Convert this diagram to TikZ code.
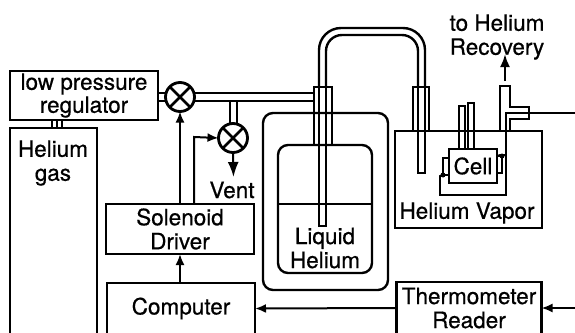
\documentclass[tikz,border=0pt]{standalone}
\usepackage{fontspec}
\setmainfont{TeX Gyre Heros}[FakeBold=0.6]
\usetikzlibrary{arrows.meta,calc}
\tikzset{
  x=1pt,y=-1pt,
  every node/.style={inner sep=0pt,outer sep=0pt},
  lab/.style={font=\fontsize{22.5}{24}\selectfont,align=center},
  boxn/.style={draw=black,line width=2.6pt,rectangle,fill=white,lab},
  valve/.style={draw=black,line width=2.8pt,circle,minimum size=29pt,fill=white,
    path picture={\draw[line width=2.6pt] (path picture bounding box.north west)--(path picture bounding box.south east)
      (path picture bounding box.north east)--(path picture bounding box.south west);}},
  pipe/.style={line width=2.4pt},
  thin line/.style={line width=1.8pt},
  sig/.style={line width=2pt,-{Latex[length=11pt,width=9pt]}},
}
\begin{document}
\begin{tikzpicture}
\useasboundingbox (0,0) rectangle (575,332);
\clip (0,0) rectangle (575,332);
\fill[white] (0,0) rectangle (575,332);
% boxes
\node[boxn,minimum width=148pt,minimum height=49pt] (reg) at (84,95.5) {low pressure\\[-1pt]regulator};
\node[boxn,minimum width=87pt,minimum height=212pt] (gas) at (53.5,234) {};
\node[lab] (gastext) at (53,163) {Helium\\gas};
\node[boxn,minimum width=148pt,minimum height=50pt] (sol) at (180,229) {Solenoid\\Driver};
\node[boxn,minimum width=148pt,minimum height=51pt] (comp) at (181,308.5) {Computer};
\node[boxn,minimum width=145pt,minimum height=52pt] (therm) at (469,308) {Thermometer\\Reader};
\node[valve] (v1) at (180,97) {};
\node[valve] (v2) at (233,138) {};
\node[lab] (vent) at (232,190) {Vent};
% gas to regulator
\coordinate (gl) at (52,0); \coordinate (gm) at (57,0); \coordinate (gr) at (62,0);
\draw[pipe] (gl |- reg.south) -- (gl |- gas.north) (gm |- reg.south) -- (gm |- gas.north) (gr |- reg.south) -- (gr |- gas.north);
% collars, vessels
\node[draw,line width=2.4pt,rectangle,minimum width=125pt,minimum height=177pt,rounded corners=10pt] (outer) at (325.5,201.5) {};
\node[draw,line width=2.4pt,rectangle,minimum width=94pt,minimum height=128pt,rounded corners=10pt] (inner) at (325,209) {};
\coordinate (lev) at (0,204);
\draw[thin line] (inner.west |- lev) -- (inner.east |- lev);
\node[lab] (lhe) at (325,248) {Liquid\\Helium};
\node[draw,line width=2.4pt,rectangle,minimum width=147pt,minimum height=97pt] (vap) at (468.5,179.5) {};
\node[lab] (vaptext) at (467,213) {Helium Vapor};
\node[draw,line width=2.4pt,rectangle,minimum width=18pt,minimum height=58pt] (cl) at (323,116) {};
\node[draw,line width=2.4pt,rectangle,minimum width=16pt,minimum height=44pt] (cr) at (421,109) {};
% U tube
\draw[pipe,rounded corners=22pt] (319,87) -- (319,28) -- (425,28) -- (425,87);
\draw[pipe,rounded corners=16pt] (326,87) -- (326,35) -- (418,35) -- (418,87);
% dip tubes
\draw[pipe] (319,87) -- (319,226) -- (326,226) -- (326,87);
\draw[pipe] (418,87) -- (418,173) -- (425,173) -- (425,87);
% gas lines
\draw[pipe] (reg.east |- v1.164) -- (v1.164);
\draw[pipe] (reg.east |- v1.196) -- (v1.196);
\draw[pipe] (v1.16) -- (cl.west |- v1.16);
\draw[pipe] (v1.344) -- (cl.west |- v1.344);
\draw[pipe] (230,101) -- (v2.north -| 230,0);
\draw[pipe] (237,101) -- (v2.north -| 237,0);
% signal lines
\draw[sig] (sol.north -| v1.south) -- (v1.south);
\draw[sig] (194,204) -- (194,137) -- (v2.west);
\draw[sig,-{Latex[length=15pt,width=11pt]}] (v2.south) -- (233.5,177);
\draw[sig] (comp.north -| sol.south) -- (sol.south);
\draw[sig] (therm.west) -- (comp.east);
\coordinate (rt) at (575,308);
\draw[sig] (rt) -- (therm.east);
% cell
\node[boxn,minimum width=48pt,minimum height=34pt] (cell) at (473,166) {Cell};
\node[draw,line width=2pt,rectangle,minimum width=6pt,minimum height=17pt] (hl) at (446,166.5) {};
\node[draw,line width=2pt,rectangle,minimum width=5pt,minimum height=17pt] (hr) at (499.5,164.5) {};
\draw[pipe] (459,149) -- (459,106) -- (465,106) -- (465,149);
\draw[pipe] (468,149) -- (468,103) -- (474,103) -- (474,149);
\coordinate (wa) at (440,176);
\coordinate (wb) at (440,195);
\coordinate (wc) at (506,195);
\coordinate (wd) at (506,113);
\coordinate (we) at (575,113);
\draw[thin line] (hl.south west) -- (wa) -- (wb) -- (wc) -- (wd) -- (529,113);
\draw[thin line] (529,113) -- (we);
\draw[thin line] (hr.north west) -- (500,155) -- (506,155);
\fill (hl.south west) circle (2.5pt);
\fill (hr.north east) circle (2.5pt);
% T piece
\draw[pipe] (500,131) -- (500,86) -- (510,86) -- (510,107) -- (529,107) -- (529,119) -- (510,119) -- (510,131);
\coordinate (ta) at (505,81);
\coordinate (tb) at (505,54);
\draw[line width=2.4pt,-{Latex[length=13pt,width=10pt]}] (ta) -- (tb);
\node[lab] (rec) at (497,37) {to Helium\\Recovery};
\end{tikzpicture}
\end{document}
